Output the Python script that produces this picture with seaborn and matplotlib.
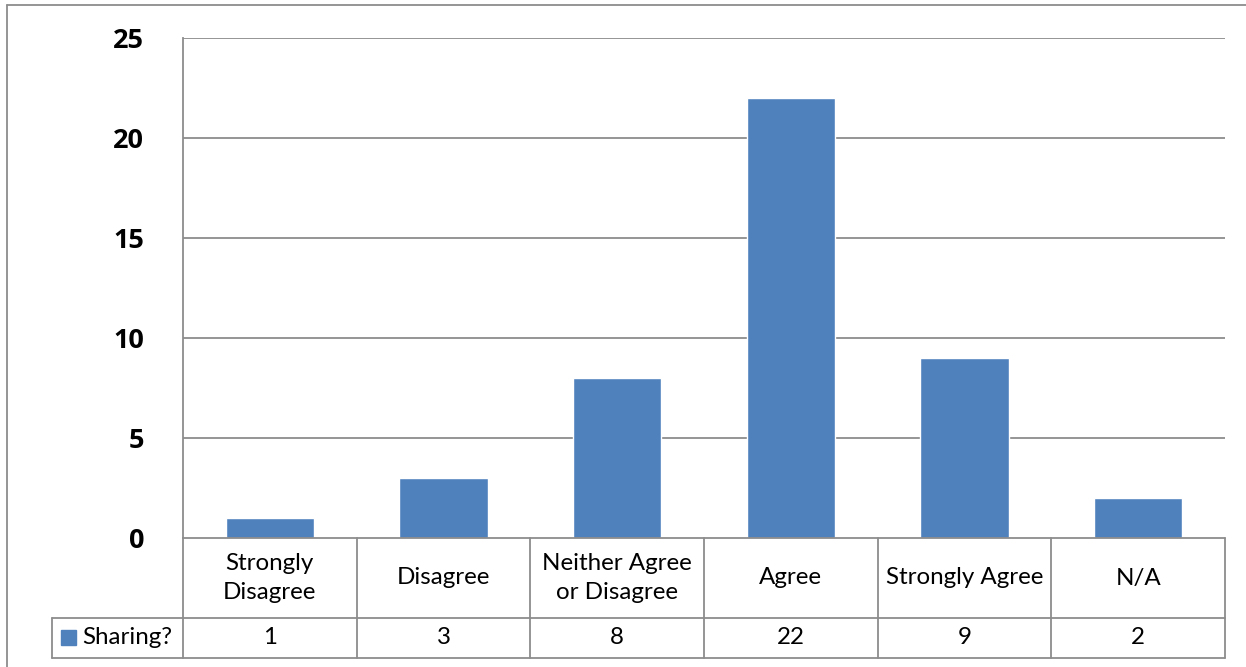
import matplotlib
matplotlib.use("Agg")
import matplotlib.pyplot as plt
import seaborn as sns
import pandas as pd
from matplotlib.lines import Line2D
from matplotlib.patches import Rectangle

# Survey responses
categories = ["Strongly Disagree", "Disagree", "Neither Agree or Disagree",
              "Agree", "Strongly Agree", "N/A"]
table_labels = ["Strongly\nDisagree", "Disagree", "Neither Agree\nor Disagree",
                "Agree", "Strongly Agree", "N/A"]
series_name = "Sharing?"
values = [1, 3, 8, 22, 9, 2]
y_ticks = [0, 5, 10, 15, 20, 25]

BAR = "#4F81BD"
GRID = "#8C8C8C"
FONT = ["Lato", "DejaVu Sans"]
TFS = 17.4

sns.set_theme(style="white")
plt.rcParams["font.family"] = FONT

W, H = 1246, 667
fig = plt.figure(figsize=(W / 100, H / 100), dpi=100)
L, R, T, B = 183, 1225, 38, 538
ax = fig.add_axes([L / W, 1 - B / H, (R - L) / W, (B - T) / H])

df = pd.DataFrame({"category": categories, "value": values})
sns.barplot(data=df, x="category", y="value", color=BAR, width=0.51,
            saturation=1, ax=ax, zorder=3)

ax.set_xlim(-0.5, len(categories) - 0.5)
ax.set_ylim(0, 25)
ax.set_yticks(y_ticks)
ax.set_yticklabels([str(t) for t in y_ticks], fontsize=19.5, fontweight="bold",
                   family=["Open Sans", "DejaVu Sans"], color="black")
ax.tick_params(axis="y", length=0, pad=28)
ax.set_xticks([])
ax.set_xlabel("")
ax.set_ylabel("")
for t in y_ticks[1:]:
    ax.axhline(t, color=GRID, lw=1.3, zorder=1)
for name, sp in ax.spines.items():
    sp.set_visible(name == "left")
ax.spines["left"].set_color(GRID)
ax.spines["left"].set_linewidth(1.3)

# Data table under the plot
ph = B - T
cw = (R - L) / len(categories)
def yf(py):
    return -(py - B) / ph
row1, row2 = yf(618), yf(658)
x_leg = -0.5 + (52 - L) / cw
tr = ax.get_xaxis_transform()
lk = dict(color=GRID, lw=1.3, transform=tr, clip_on=False, zorder=4)
n = len(categories)
ax.add_line(Line2D([-0.5, n - 0.5], [0, 0], **lk))
ax.add_line(Line2D([x_leg, n - 0.5], [row1, row1], **lk))
ax.add_line(Line2D([x_leg, n - 0.5], [row2, row2], **lk))
ax.add_line(Line2D([x_leg, x_leg], [row1, row2], **lk))
for i in range(n + 1):
    ax.add_line(Line2D([i - 0.5, i - 0.5], [0, row2], **lk))

for i, (lab, v) in enumerate(zip(table_labels, values)):
    ax.text(i, row1 / 2, lab, transform=tr, ha="center", va="center",
            fontsize=TFS, linespacing=1.45, color="black")
    ax.text(i, (row1 + row2) / 2, str(v), transform=tr, ha="center",
            va="center", fontsize=TFS, color="black")

# Legend key inside the table
fig.patches.append(Rectangle((61 / W, 1 - 645 / H), 15 / W, 15 / H,
                             transform=fig.transFigure, color=BAR))
fig.text(82 / W, 1 - 638 / H, series_name, ha="left", va="center",
         fontsize=TFS, color="black")

# Chart frame
fig.add_artist(Line2D([7 / W, 7 / W], [0, 1 - 5 / H], color=GRID, lw=1.3,
                      transform=fig.transFigure))
fig.add_artist(Line2D([7 / W, 1], [1 - 5 / H, 1 - 5 / H], color=GRID, lw=1.3,
                      transform=fig.transFigure))

fig.savefig("out.png", dpi=100)
